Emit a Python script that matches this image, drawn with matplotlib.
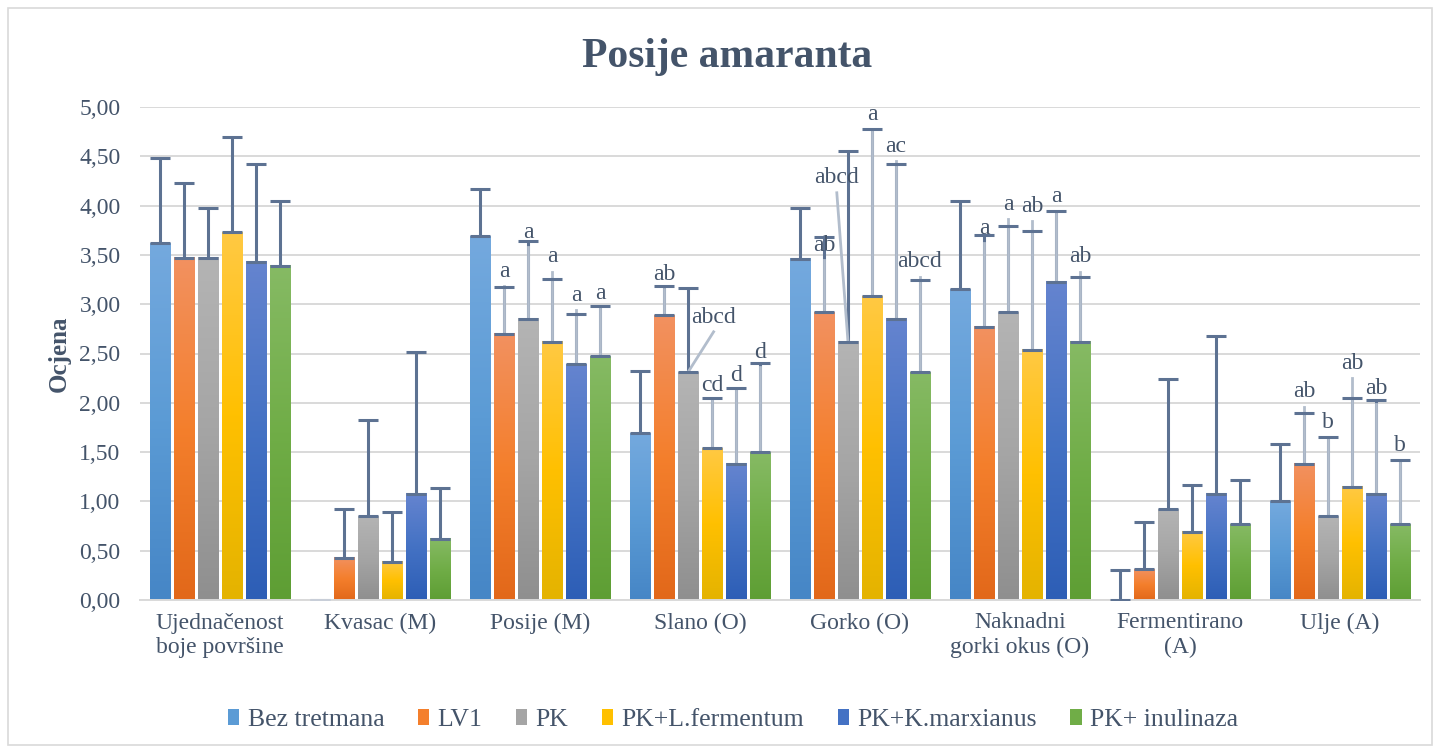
import numpy as np
import matplotlib
matplotlib.use('Agg')
import matplotlib.pyplot as plt
from matplotlib.colors import LinearSegmentedColormap
from matplotlib.patches import Patch, Rectangle
from matplotlib.ticker import FuncFormatter

plt.rcParams['font.family'] = ['Liberation Serif', 'DejaVu Serif']

categories = ['Ujednačenost\nboje površine', 'Kvasac (M)', 'Posije (M)', 'Slano (O)',
              'Gorko (O)', 'Naknadni\ngorki okus (O)', 'Fermentirano\n(A)', 'Ulje (A)']
series = ['Bez tretmana', 'LV1', 'PK', 'PK+L.fermentum', 'PK+K.marxianus', 'PK+ inulinaza']

# mean scores
bez = [3.62, 0.00, 3.69, 1.69, 3.46, 3.15, 0.00, 1.00]
lv1 = [3.47, 0.43, 2.70, 2.89, 2.92, 2.77, 0.31, 1.38]
pk = [3.47, 0.85, 2.85, 2.31, 2.62, 2.92, 0.92, 0.85]
pk_lf = [3.73, 0.39, 2.62, 1.54, 3.08, 2.54, 0.69, 1.15]
pk_km = [3.43, 1.08, 2.39, 1.38, 2.85, 3.23, 1.08, 1.08]
pk_in = [3.39, 0.62, 2.47, 1.50, 2.31, 2.62, 0.77, 0.77]

# standard deviations (upper error bars only)
bez_sd = [0.86, 0.00, 0.48, 0.63, 0.52, 0.90, 0.30, 0.58]
lv1_sd = [0.76, 0.49, 0.47, 0.29, 0.76, 0.93, 0.48, 0.52]
pk_sd = [0.51, 0.98, 0.79, 0.85, 1.93, 0.87, 1.32, 0.80]
pk_lf_sd = [0.97, 0.50, 0.64, 0.51, 1.70, 1.20, 0.48, 0.90]
pk_km_sd = [0.99, 1.44, 0.51, 0.77, 1.57, 0.72, 1.60, 0.95]
pk_in_sd = [0.66, 0.52, 0.51, 0.90, 0.94, 0.66, 0.45, 0.65]

# significance letters
bez_lab = [''] * 8
lv1_lab = ['', '', 'a', 'ab', 'ab', 'a', '', 'ab']
pk_lab = ['', '', 'a', 'abcd', 'abcd', 'a', '', 'b']
pk_lf_lab = ['', '', 'a', 'cd', 'a', 'ab', '', 'ab']
pk_km_lab = ['', '', 'a', 'd', 'ac', 'a', '', 'ab']
pk_in_lab = ['', '', 'a', 'd', 'abcd', 'ab', '', 'b']

values = [bez, lv1, pk, pk_lf, pk_km, pk_in]
sds = [bez_sd, lv1_sd, pk_sd, pk_lf_sd, pk_km_sd, pk_in_sd]
labels = [bez_lab, lv1_lab, pk_lab, pk_lf_lab, pk_km_lab, pk_in_lab]

# where the letters sit (y of text centre, x shift from bar)
nan = np.nan
label_y = [
    [nan] * 8,
    [nan, nan, 3.33, 3.30, 3.60, 3.77, nan, 2.11],
    [nan, nan, 3.73, 2.87, 4.28, 4.01, nan, 1.80],
    [nan, nan, 3.48, 2.18, 4.92, 3.99, nan, 2.40],
    [nan, nan, 3.09, 2.28, 4.60, 4.09, nan, 2.14],
    [nan, nan, 3.11, 2.51, 3.43, 3.48, nan, 1.57],
]
label_dx = {(2, 3): 0.16, (2, 4): -0.07}

# (top, base, bottom) of each bar gradient
grads = [
    ('#74a9de', '#5b9bd5', '#4686c6'),
    ('#f29160', '#f47f2c', '#e2681a'),
    ('#b4b4b4', '#a5a5a5', '#8f8f8f'),
    ('#ffc943', '#ffc000', '#e4b300'),
    ('#6584cf', '#4472c4', '#2d5eb6'),
    ('#86ba64', '#70ad47', '#5e9e34'),
]

txt = '#44546a'
err_c = '#5d7292'
lead_c = '#b2bdcc'

fig = plt.figure(figsize=(14.4, 7.53), dpi=100)
ax = fig.add_axes([140 / 1440, 1 - 600 / 753, 1280 / 1440, 493 / 753])

x = np.arange(len(categories))
step = 0.15
width = 0.127

for i, s in enumerate(series):
    xs = x + (i - 2.5) * step
    top, mid, bot = grads[i]
    cmap = LinearSegmentedColormap.from_list('g%d' % i, [bot, mid, top])
    grad = np.linspace(0, 1, 128).reshape(-1, 1)
    for xi, v in zip(xs, values[i]):
        if v <= 0:
            continue
        ax.imshow(grad, cmap=cmap, origin='lower', aspect='auto',
                  extent=(xi - width / 2, xi + width / 2, 0, v), zorder=2)
    ecol = [err_c if v > 0 or sd > 0 else '#c8ced8' for v, sd in zip(values[i], sds[i])]
    for j in range(8):
        eb = ax.errorbar(xs[j], values[i][j], yerr=[[0], [sds[i][j]]], fmt='none',
                         ecolor=ecol[j], elinewidth=2.2, capsize=7, capthick=2.2, zorder=3)
        for c in eb[1]:
            c.set_zorder(5)
    for j, lab in enumerate(labels[i]):
        if not lab:
            continue
        lx = xs[j] + label_dx.get((i, j), 0)
        ly = label_y[i][j]
        ax.plot([lx, xs[j]], [ly - 0.15, values[i][j]], color=lead_c, lw=2, zorder=4)
        ax.text(lx, ly, lab, ha='center', va='center', fontsize=17, color=txt, zorder=6)

ax.set_xlim(-0.5, 7.5)
ax.set_ylim(0, 5)
ax.set_yticks(np.arange(0, 5.01, 0.5))
ax.yaxis.set_major_formatter(FuncFormatter(lambda v, p: f'{v:.2f}'.replace('.', ',')))
ax.set_xticks(x)
ax.set_xticklabels(categories)
ax.tick_params(axis='both', length=0, labelsize=17, labelcolor=txt)
ax.tick_params(axis='x', pad=9)
ax.tick_params(axis='y', pad=14)
ax.yaxis.grid(True, color='#d9d9d9', lw=1.4)
ax.set_axisbelow(True)
for sp in ['top', 'right', 'left']:
    ax.spines[sp].set_visible(False)
ax.spines['bottom'].set_color('#d9d9d9')
ax.spines['bottom'].set_linewidth(1.4)

ax.set_ylabel('Ocjena', fontsize=18, fontweight='bold', color=txt, labelpad=6)
fig.text(0.505, 0.924, 'Posije amaranta', ha='center', va='center',
         fontsize=30, fontweight='bold', color=txt)

handles = [Patch(facecolor=g[1], edgecolor='none') for g in grads]
fig.legend(handles, series, loc='center', bbox_to_anchor=(0.509, 0.044), ncol=6,
           frameon=False, fontsize=18.5, handlelength=0.45, handleheight=0.55,
           handletextpad=0.32, columnspacing=1.3, labelcolor=txt)

fig.patches.append(Rectangle((8 / 1440, 8 / 753), 1424 / 1440, 737 / 753,
                             transform=fig.transFigure, fill=False,
                             edgecolor='#d9d9d9', lw=1.2))

fig.savefig('out.png', dpi=100)
